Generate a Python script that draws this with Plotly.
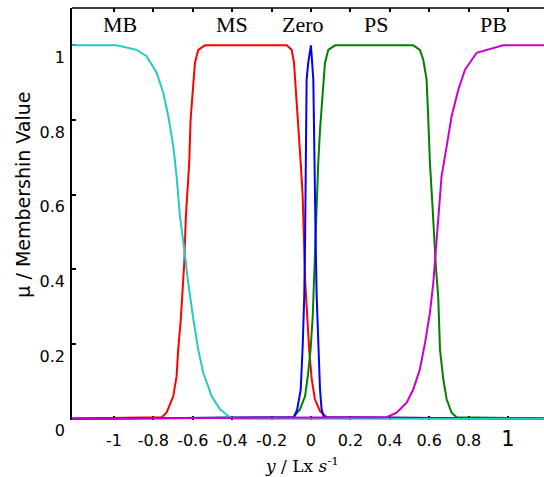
import plotly.graph_objects as go

# Membership functions of the velocity variable (sampled curves)
mb_x = [-1.25, -0.986, -0.885, -0.834, -0.783, -0.750, -0.724, -0.699, -0.682, -0.665,
        -0.645, -0.623, -0.597, -0.572, -0.547, -0.504, -0.462, -0.411, -0.386, 1.25]
mb_y = [1.0, 1.0, 0.988, 0.971, 0.926, 0.873, 0.810, 0.730, 0.649, 0.542,
        0.462, 0.364, 0.266, 0.185, 0.123, 0.060, 0.025, 0.004, 0.0, 0.0]

ms_x = [-1.25, -0.758, -0.733, -0.699, -0.682, -0.674, -0.662, -0.652, -0.643, -0.635,
        -0.628, -0.618, -0.611, -0.597, -0.589, -0.572, -0.538,
        -0.123, -0.098, -0.086, -0.076, -0.064, -0.052, -0.042, -0.036, -0.029,
        -0.019, -0.009, 0.004, 0.020, 0.046, 0.080, 1.25]
ms_y = [0.0, 0.004, 0.016, 0.060, 0.114, 0.185, 0.257, 0.328, 0.418, 0.542,
        0.614, 0.685, 0.801, 0.899, 0.953, 0.988, 1.0,
        1.0, 0.988, 0.953, 0.881, 0.774, 0.685, 0.596, 0.471, 0.364,
        0.275, 0.185, 0.105, 0.052, 0.020, 0.004, 0.0]

zero_x = [-1.25, -0.086, -0.070, -0.052, -0.042, -0.034, -0.030, -0.025, -0.022, -0.014,
          0.0, 0.012, 0.017, 0.024, 0.029, 0.037, 0.046, 0.054, 0.066, 1.25]
zero_y = [0.0, 0.004, 0.025, 0.078, 0.194, 0.328, 0.471, 0.667, 0.908, 0.953,
          1.0, 0.908, 0.667, 0.471, 0.328, 0.194, 0.078, 0.025, 0.004, 0.0]

ps_x = [-1.25, -0.090, -0.056, -0.030, -0.014, -0.002, 0.009, 0.015, 0.022, 0.029,
        0.037, 0.046, 0.059, 0.071, 0.088, 0.122,
        0.519, 0.553, 0.570, 0.587, 0.595, 0.604, 0.616, 0.626, 0.635,
        0.646, 0.655, 0.672, 0.689, 0.714, 0.740, 1.25]
ps_y = [0.0, 0.004, 0.025, 0.060, 0.123, 0.185, 0.275, 0.364, 0.471, 0.596,
        0.685, 0.774, 0.881, 0.953, 0.988, 1.0,
        1.0, 0.988, 0.962, 0.908, 0.810, 0.685, 0.578, 0.471, 0.400,
        0.328, 0.185, 0.105, 0.052, 0.016, 0.004, 0.0]

pb_x = [-1.25, 0.384, 0.435, 0.486, 0.519, 0.553, 0.579, 0.604, 0.621, 0.635,
        0.646, 0.663, 0.689, 0.714, 0.748, 0.782, 0.841, 0.976, 1.25]
pb_y = [0.0, 0.004, 0.016, 0.043, 0.078, 0.132, 0.203, 0.284, 0.364, 0.462,
        0.542, 0.649, 0.730, 0.810, 0.881, 0.935, 0.980, 1.0, 1.0]

set_names = ["MB", "MS", "Zero", "PS", "PB"]
name_x = [-0.97, -0.40, -0.04, 0.33, 0.925]
name_y = 1.055

x_ticks = [-1, -0.8, -0.6, -0.4, -0.2, 0, 0.2, 0.4, 0.6, 0.8, 1]
x_tick_text = ["-1", "-0.8", "-0.6", "-0.4", "-0.2", "0", "0.2", "0.4", "0.6", "0.8",
               '<span style="font-size:21px">1</span>']
y_ticks = [0, 0.2, 0.4, 0.6, 0.8, 1]
y_tick_text = ["0", "0.2", "0.4", "0.6", "0.8", "1"]

fig = go.Figure()
# drawing order: later traces sit on top along the zero line
for xs, ys, col in [(ms_x, ms_y, "#ff0000"),
                    (ps_x, ps_y, "#008000"),
                    (zero_x, zero_y, "#0000ff"),
                    (mb_x, mb_y, "#28c8c8"),
                    (pb_x, pb_y, "#cc00cc")]:
    fig.add_trace(go.Scatter(x=xs, y=ys, mode="lines",
                             line=dict(color=col, width=2), showlegend=False,
                             hoverinfo="skip"))

for txt, xv in zip(set_names, name_x):
    fig.add_annotation(x=xv, y=name_y, xref="x", yref="y", text=txt, showarrow=False,
                       font=dict(family="Liberation Serif, Times New Roman, serif",
                                 size=22, color="black"))

# axis titles
fig.add_annotation(xref="paper", yref="y", x=0, y=0.6, xanchor="center", yanchor="middle",
                   xshift=-49, text="μ / Membershin Value",
                   textangle=-90, showarrow=False,
                   font=dict(family="DejaVu Sans, sans-serif", size=19, color="black"))
fig.add_annotation(xref="x", yref="paper", x=-0.047, y=0, xanchor="center", yanchor="middle",
                   yshift=-45,
                   text="<i>y</i> / Lx <i>s</i><sup>-1</sup>", showarrow=False,
                   font=dict(family="DejaVu Serif, serif", size=17, color="black"))

# top border of the axes box
fig.add_shape(type="line", xref="paper", yref="paper", x0=0, x1=1, y0=1, y1=1,
              line=dict(color="black", width=1.5))

fig.update_layout(
    width=544, height=477,
    margin=dict(l=72, r=0, t=8, b=57),
    paper_bgcolor="white", plot_bgcolor="white",
    font=dict(family="DejaVu Sans, sans-serif", size=16, color="black"),
)
# the zero level of the curves forms the bottom edge of the box
fig.update_xaxes(range=[-1.213, 1.183], tickvals=x_ticks, ticktext=x_tick_text,
                 ticks="inside", ticklen=4, tickwidth=1.5, tickcolor="black",
                 showline=False, mirror="ticks",
                 showgrid=False, zeroline=False, ticklabelstandoff=9,
                 layer="below traces")
fig.update_yaxes(range=[-0.0035, 1.1], tickvals=y_ticks, ticktext=y_tick_text,
                 ticks="inside", ticklen=4, tickwidth=1.5, tickcolor="black",
                 showline=True, linecolor="black", linewidth=1.5, mirror=False,
                 showgrid=False, zeroline=False, ticklabelposition="outside bottom",
                 ticklabelstandoff=2, layer="below traces")

fig.write_html("out.html")
